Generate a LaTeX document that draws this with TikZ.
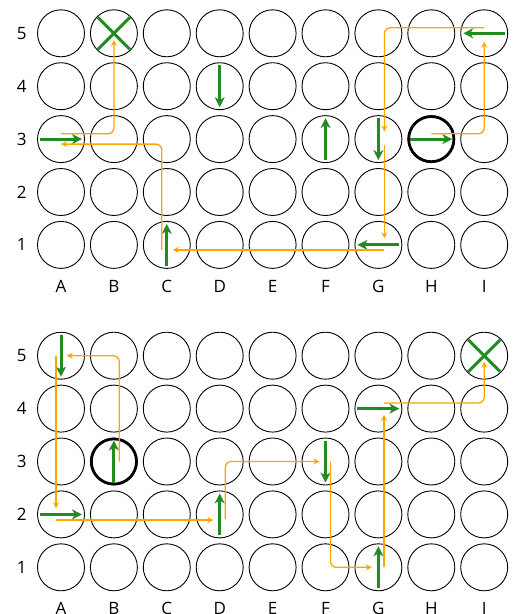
\documentclass[tikz,border=0pt]{standalone}
\usepackage{fontspec}
\setmainfont{Open Sans}
\usetikzlibrary{arrows.meta}
\definecolor{MoveGreen}{RGB}{34, 139, 34}
\definecolor{RouteOrange}{RGB}{255, 165, 0}

\begin{document}
\begin{tikzpicture}[
    x=1pt, y=1pt,
    every node/.style={font=\fontsize{17}{20}\selectfont},
    cell/.style={circle, draw, line width=0.9pt, minimum size=47pt, inner sep=0pt},
    startcell/.style={cell, line width=2.6pt, minimum size=45pt},
    move/.style={-{Stealth[length=10pt, width=10pt, inset=3pt]}, draw=MoveGreen, line width=3pt},
    goal/.style={draw=MoveGreen, line width=3pt},
    route/.style={-{Stealth[length=6pt, width=6pt, inset=2pt]}, draw=RouteOrange, line width=1.3pt, rounded corners=6pt}
  ]
    \useasboundingbox (0,0) rectangle (517,-614);

    % Boards
    \foreach \g/\gy in {t/0, b/-322.4} {
      \foreach \col [count=\i from 0] in {A,B,C,D,E,F,G,H,I} {
        \foreach \r in {1,...,5} {
          \node[cell] (\g\col\r) at ({61+52.9*\i}, {\gy-33.3-52.9*(5-\r)}) {};
        }
        \node (\g col\col) at ({61+52.9*\i}, {\gy-286}) {\col};
      }
      \foreach \r in {1,...,5} {
        \node (\g row\r) at (21.7, {\gy-33.3-52.9*(5-\r)}) {\r};
      }
    }

    % Start cells
    \node[startcell] (tstart) at (tH3.center) {};
    \node[startcell] (bstart) at (bB3.center) {};

    % Moves, top board
    \draw[move] ([xshift=-21pt]tA3.center) -- ([xshift=21pt]tA3.center);
    \draw[move] ([yshift=21pt]tD4.center) -- ([yshift=-21pt]tD4.center);
    \draw[move] ([yshift=-21pt]tC1.center) -- ([yshift=21pt]tC1.center);
    \draw[move] ([yshift=-21pt]tF3.center) -- ([yshift=21pt]tF3.center);
    \draw[move] ([yshift=21pt]tG3.center) -- ([yshift=-21pt]tG3.center);
    \draw[move] ([xshift=-21pt]tH3.center) -- ([xshift=21pt]tH3.center);
    \draw[move] ([xshift=21pt]tI5.center) -- ([xshift=-21pt]tI5.center);
    \draw[move] ([xshift=21pt]tG1.center) -- ([xshift=-21pt]tG1.center);
    \draw[goal] ([shift={(-16pt,16pt)}]tB5.center) -- ([shift={(16pt,-16pt)}]tB5.center);
    \draw[goal] ([shift={(-16pt,-16pt)}]tB5.center) -- ([shift={(16pt,16pt)}]tB5.center);

    % Moves, bottom board
    \draw[move] ([yshift=21pt]bA5.center) -- ([yshift=-21pt]bA5.center);
    \draw[move] ([xshift=-21pt]bA2.center) -- ([xshift=21pt]bA2.center);
    \draw[move] ([yshift=-21pt]bD2.center) -- ([yshift=21pt]bD2.center);
    \draw[move] ([yshift=21pt]bF3.center) -- ([yshift=-21pt]bF3.center);
    \draw[move] ([yshift=-21pt]bG1.center) -- ([yshift=21pt]bG1.center);
    \draw[move] ([xshift=-21pt]bG4.center) -- ([xshift=21pt]bG4.center);
    \draw[move] ([yshift=-21pt]bB3.center) -- ([yshift=21pt]bB3.center);
    \draw[goal] ([shift={(-16pt,16pt)}]bI5.center) -- ([shift={(16pt,-16pt)}]bI5.center);
    \draw[goal] ([shift={(-16pt,-16pt)}]bI5.center) -- ([shift={(16pt,16pt)}]bI5.center);

    % Route, top board
    \draw[route] ([yshift=5.3pt]tH3.center) -| ([yshift=-8.4pt]tI5.center);
    \draw[route] ([yshift=5.6pt]tI5.center) -| ([xshift=6pt, yshift=7.6pt]tG3.center);
    \draw[route] ([xshift=6pt, yshift=-5.7pt]tG3.center) -- ([xshift=6pt, yshift=6.7pt]tG1.center);
    \draw[route] ([xshift=6pt, yshift=-5pt]tG1.center) -- ([xshift=6pt, yshift=-5pt]tC1.center);
    \draw[route] ([xshift=-5pt, yshift=-5pt]tC1.center) |- ([yshift=-5pt]tA3.center);
    \draw[route] ([yshift=5.3pt]tA3.center) -| ([yshift=-6.7pt]tB5.center);

    % Route, bottom board
    \draw[route] ([xshift=5.3pt]bB3.center) |- ([xshift=5.7pt]bA5.center);
    \draw[route] ([xshift=-5pt]bA5.center) -- ([xshift=-5pt, yshift=6pt]bA2.center);
    \draw[route] ([xshift=-5pt, yshift=-5.7pt]bA2.center) -- ([xshift=-6.4pt, yshift=-5.7pt]bD2.center);
    \draw[route] ([xshift=5.6pt, yshift=-5pt]bD2.center) |- ([xshift=-6pt]bF3.center);
    \draw[route] ([xshift=5pt]bF3.center) |- ([xshift=-6.7pt]bG1.center);
    \draw[route] ([xshift=5.6pt]bG1.center) -- ([xshift=5.6pt, yshift=-6.3pt]bG4.center);
    \draw[route] ([xshift=5.6pt, yshift=5.6pt]bG4.center) -| ([yshift=-6pt]bI5.center);
  \end{tikzpicture}
\end{document}
